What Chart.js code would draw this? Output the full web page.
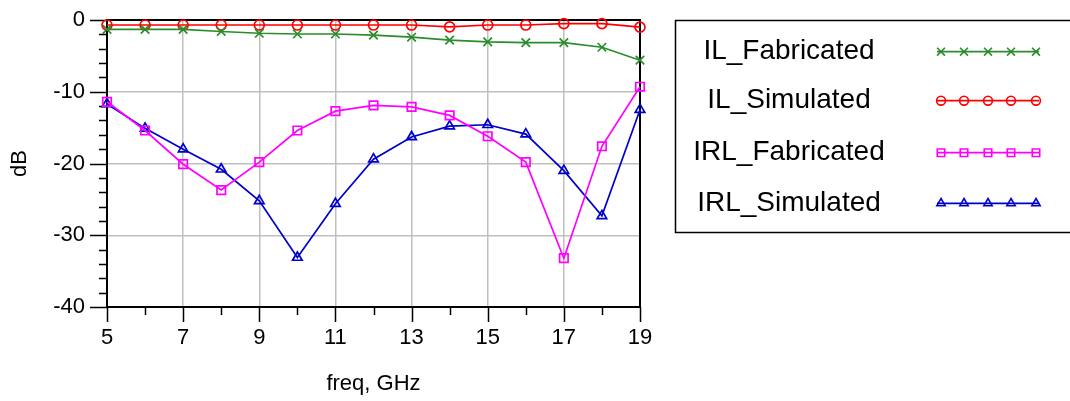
<!DOCTYPE html>
<html>
<head>
<meta charset="utf-8">
<script src="https://cdn.jsdelivr.net/npm/chart.js@4.4.1/dist/chart.umd.min.js"></script>
<style>
  html, body { margin: 0; padding: 0; background: #fff; }
  #wrap { width: 1070px; height: 401px; position: relative; }
</style>
</head>
<body>
<div id="wrap"><canvas id="c" width="1070" height="401"></canvas></div>
<script>
// Frequency points (GHz)
const freq = [5, 6, 7, 8, 9, 10, 11, 12, 13, 14, 15, 16, 17, 18, 19];

// Insertion loss (dB)
const ilFabricated = [-1.3, -1.3, -1.3, -1.6, -1.85, -1.95, -1.95, -2.1, -2.4, -2.8, -3.05, -3.15, -3.15, -3.8, -5.6];
const ilSimulated  = [-0.7, -0.7, -0.7, -0.7, -0.7, -0.7, -0.7, -0.7, -0.7, -0.95, -0.7, -0.7, -0.5, -0.5, -1.0];

// Input return loss (dB)
const irlFabricated = [-11.4, -15.4, -20.1, -23.7, -19.8, -15.4, -12.7, -11.9, -12.1, -13.3, -16.2, -19.8, -33.2, -17.6, -9.3];
const irlSimulated  = [-11.7, -15.1, -18.0, -20.8, -25.2, -33.1, -25.6, -19.4, -16.3, -14.8, -14.6, -15.9, -21.0, -27.3, -12.5];

// Labelled ticks
const xTickLabels = [5, 7, 9, 11, 13, 15, 17, 19];
const yTickLabels = [0, -10, -20, -30, -40];

const seriesNames = ['IL_Fabricated', 'IL_Simulated', 'IRL_Fabricated', 'IRL_Simulated'];

const FONT = '"Liberation Sans", Arial, sans-serif';

function pts(ys) { return freq.map((f, i) => ({ x: f, y: ys[i] })); }

const datasets = [
  { label: seriesNames[0], data: pts(ilFabricated), borderColor: '#2a8c2a', pointStyle: 'crossRot', pointRadius: 6, legendRadius: 5.6 },
  { label: seriesNames[1], data: pts(ilSimulated), borderColor: '#ff0000', pointStyle: 'circle', pointRadius: 5, legendRadius: 4.4 },
  { label: seriesNames[2], data: pts(irlFabricated), borderColor: '#ff00ff', pointStyle: 'rect', pointRadius: 6, legendRadius: 5.3 },
  { label: seriesNames[3], data: pts(irlSimulated), borderColor: '#0000cc', pointStyle: 'triangle', pointRadius: 5.5, legendRadius: 4.8 }
].map(d => Object.assign(d, {
  borderWidth: 1.7,
  pointBorderColor: d.borderColor,
  pointBackgroundColor: 'rgba(0,0,0,0)',
  pointBorderWidth: 1.7,
  pointHoverRadius: d.pointRadius,
  tension: 0,
  fill: false,
  clip: false
}));

// Frame, tick marks, axis titles and the side legend
const decor = {
  id: 'decor',
  beforeDatasetsDraw(chart) {
    const ctx = chart.ctx;
    const a = chart.chartArea;
    const xs = chart.scales.x, ys = chart.scales.y;
    ctx.save();
    ctx.strokeStyle = '#000';
    ctx.lineWidth = 1.5;
    ctx.beginPath();
    for (let v = -40; v <= 0; v += 2) {
      const py = Math.round(ys.getPixelForValue(v)) + 0.5;
      const len = (v % 10 === 0) ? 17 : 8;
      ctx.moveTo(a.left - len, py);
      ctx.lineTo(a.left, py);
    }
    for (let v = 5; v <= 19; v += 1) {
      const px = Math.round(xs.getPixelForValue(v)) + 0.5;
      const len = (v % 2 === 1) ? 15 : 8;
      ctx.moveTo(px, a.bottom);
      ctx.lineTo(px, a.bottom + len);
    }
    ctx.stroke();
    ctx.lineWidth = 2;
    ctx.strokeRect(a.left, a.top, a.right - a.left, a.bottom - a.top);

    // axis titles
    ctx.fillStyle = '#000';
    ctx.font = '22px ' + FONT;
    ctx.textAlign = 'center';
    ctx.textBaseline = 'middle';
    ctx.fillText('freq, GHz', (a.left + a.right) / 2, 384);
    ctx.save();
    ctx.translate(20, (a.top + a.bottom) / 2);
    ctx.rotate(-Math.PI / 2);
    ctx.fillText('dB', 0, 0);
    ctx.restore();
    ctx.restore();
  },
  afterDraw(chart) {
    const ctx = chart.ctx;
    ctx.save();
    ctx.strokeStyle = '#000';
    ctx.lineWidth = 1.5;
    ctx.strokeRect(675.5, 20.5, 420, 212);
    const rows = [51.7, 100.7, 152.7, 203.3];
    const markX = [941, 964, 988, 1011, 1036];
    chart.data.datasets.forEach((ds, i) => {
      const y = rows[i];
      ctx.fillStyle = '#000';
      ctx.font = '28px ' + FONT;
      ctx.textAlign = 'center';
      ctx.textBaseline = 'middle';
      ctx.fillText(ds.label, 789, y);
      ctx.strokeStyle = ds.borderColor;
      ctx.lineWidth = 1.7;
      ctx.beginPath();
      ctx.moveTo(937, y);
      ctx.lineTo(1039, y);
      ctx.stroke();
      const opts = { pointStyle: ds.pointStyle, radius: ds.legendRadius, rotation: 0, borderWidth: 1.6 };
      ctx.fillStyle = 'rgba(0,0,0,0)';
      markX.forEach(mx => {
        ctx.strokeStyle = ds.borderColor;
        ctx.lineWidth = 1.6;
        Chart.helpers.drawPoint(ctx, opts, mx, y);
      });
    });
    ctx.restore();
  }
};

new Chart(document.getElementById('c'), {
  type: 'line',
  data: { datasets },
  options: {
    responsive: false,
    animation: false,
    devicePixelRatio: 1,
    layout: { padding: { top: 20, right: 430, left: 0, bottom: 0 } },
    plugins: { legend: { display: false }, tooltip: { enabled: false } },
    scales: {
      x: {
        type: 'linear',
        min: 5, max: 19,
        afterFit(scale) { scale.height = 94; scale.paddingLeft = 0; scale.paddingRight = 0; },
        ticks: {
          stepSize: 1,
          autoSkip: false,
          maxRotation: 0,
          padding: 18,
          color: '#000',
          font: { family: FONT, size: 22 },
          callback: v => xTickLabels.includes(v) ? String(v) : ''
        },
        grid: {
          drawTicks: false,
          lineWidth: 1.5,
          color: ctx => (ctx.tick && ctx.tick.value % 2 === 1 && ctx.tick.value > 5 && ctx.tick.value < 19) ? '#c0c0c0' : 'rgba(0,0,0,0)'
        },
        border: { display: false }
      },
      y: {
        type: 'linear',
        min: -40, max: 0,
        afterFit(scale) { scale.width = 107; scale.paddingTop = 0; scale.paddingBottom = 0; },
        ticks: {
          stepSize: 2,
          autoSkip: false,
          padding: 22,
          color: '#000',
          font: { family: FONT, size: 22 },
          callback: v => yTickLabels.includes(v) ? String(v) : ''
        },
        grid: {
          drawTicks: false,
          lineWidth: 1.5,
          color: ctx => (ctx.tick && ctx.tick.value % 10 === 0 && ctx.tick.value > -40 && ctx.tick.value < 0) ? '#c0c0c0' : 'rgba(0,0,0,0)'
        },
        border: { display: false }
      }
    }
  },
  plugins: [decor]
});
</script>
</body>
</html>
